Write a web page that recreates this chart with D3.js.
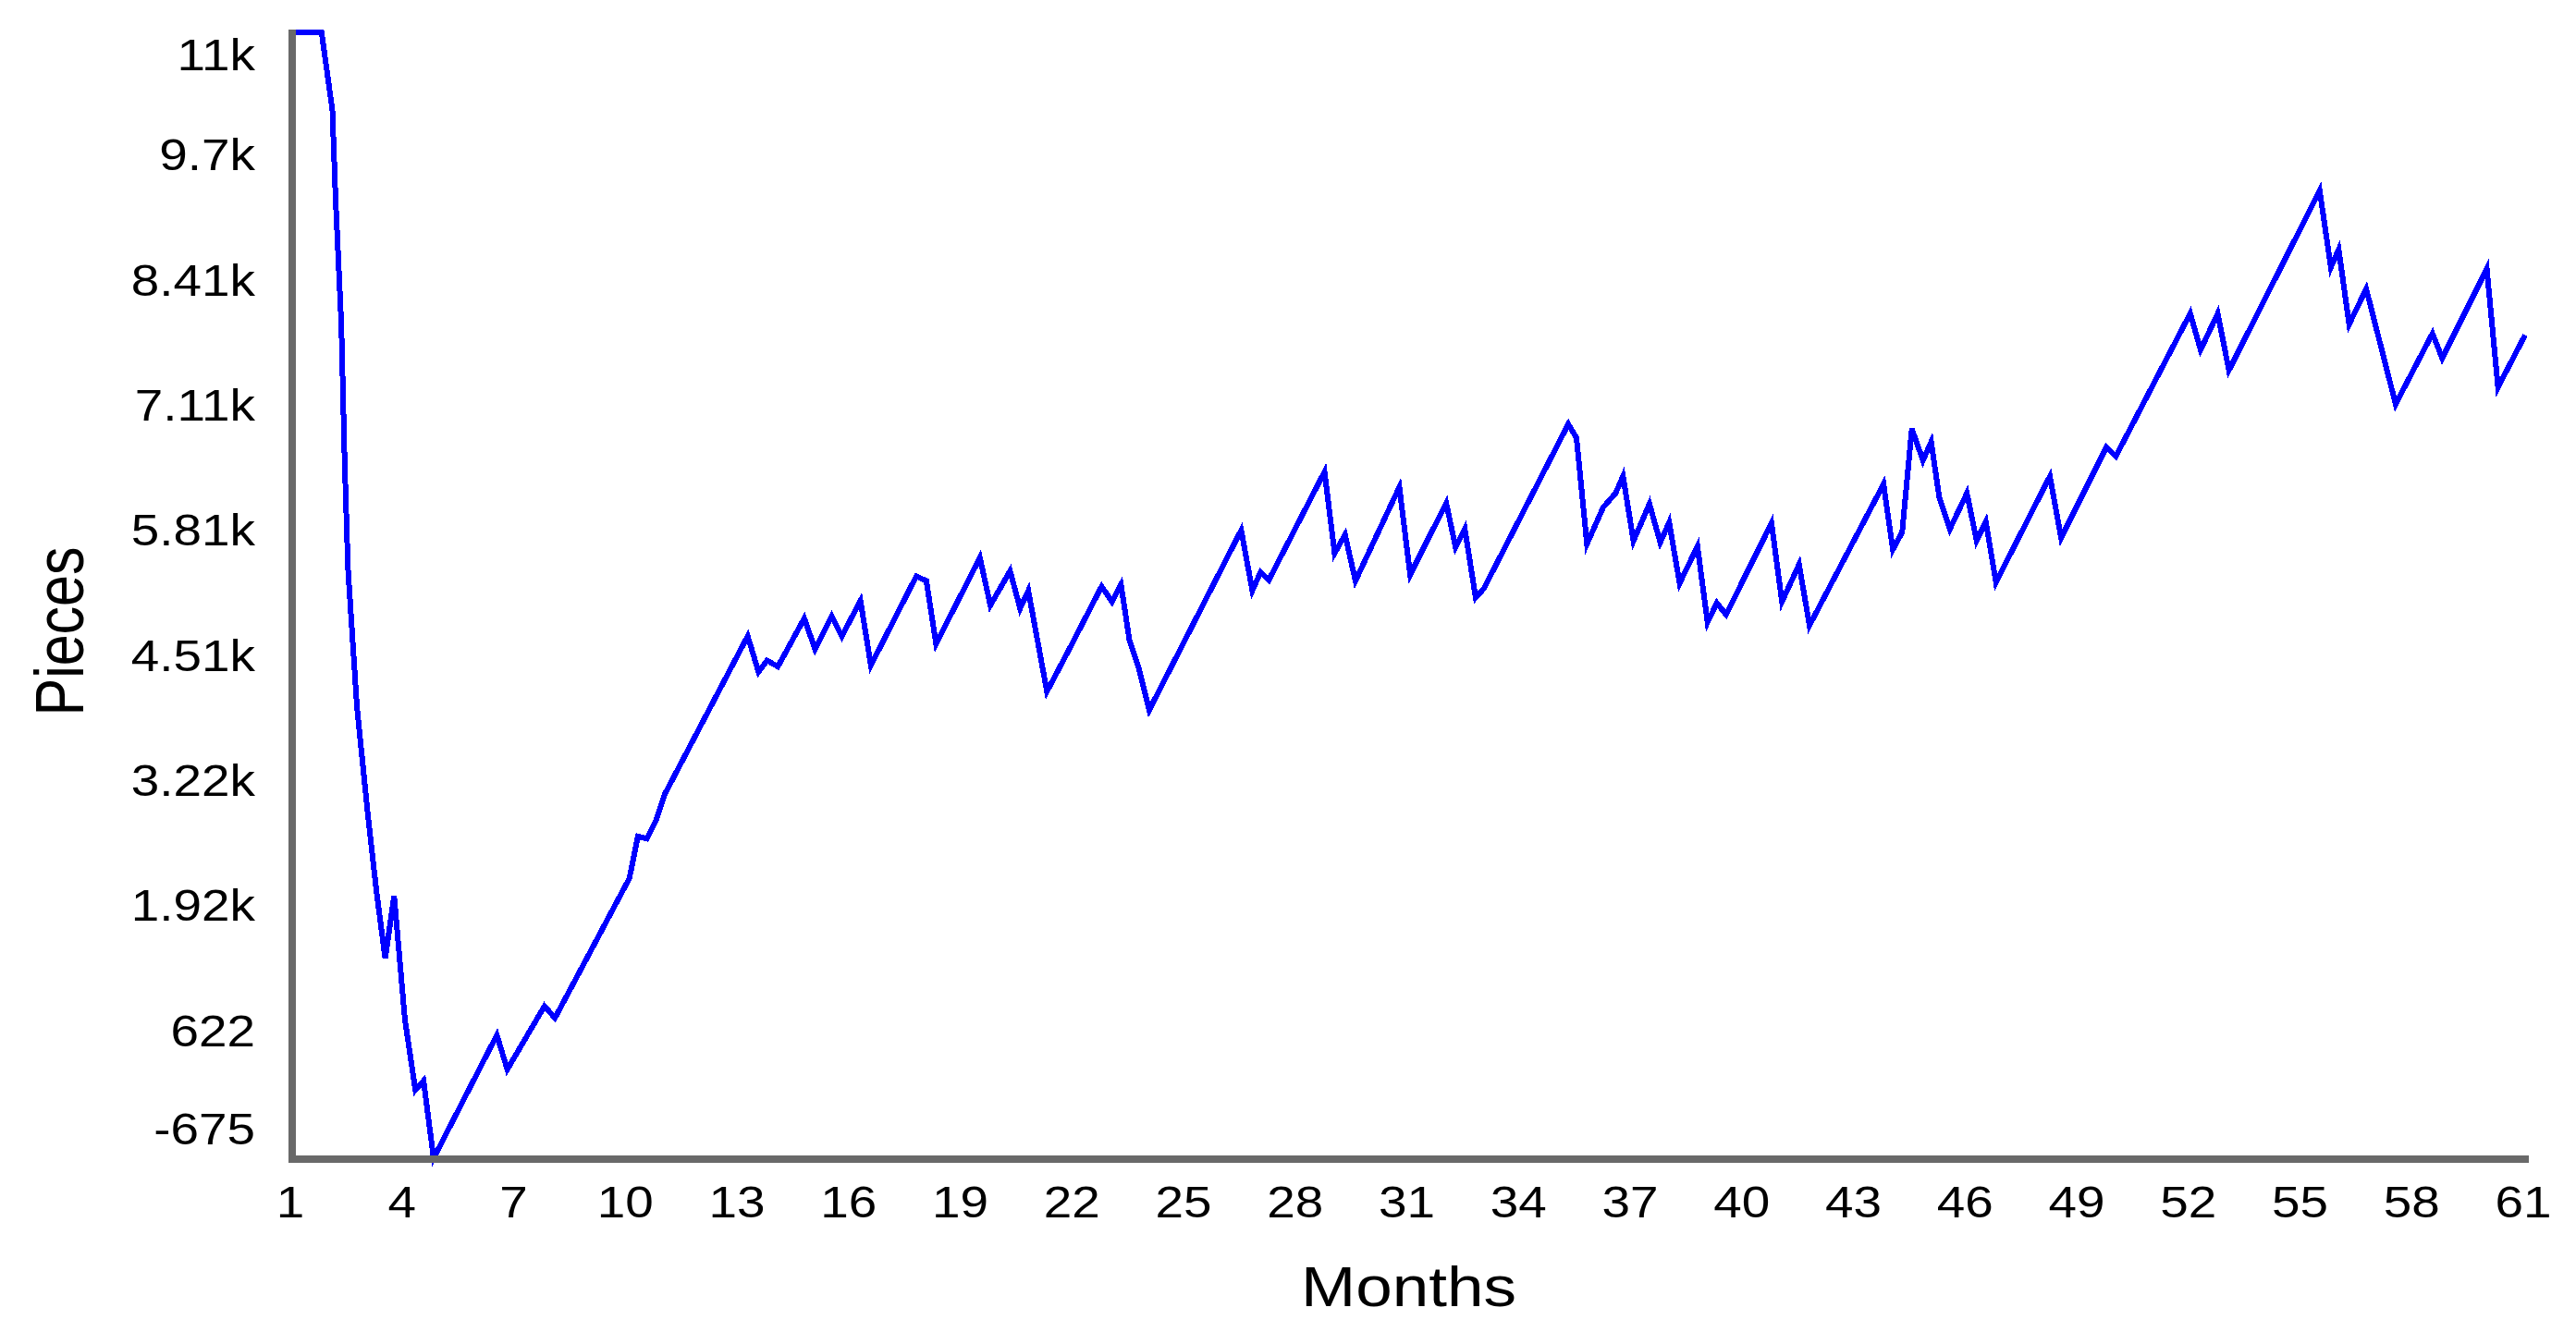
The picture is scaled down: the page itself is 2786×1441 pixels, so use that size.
<!DOCTYPE html>
<html>
<head>
<meta charset="utf-8">
<script src="https://cdn.jsdelivr.net/npm/d3@7"></script>
<style>
  html, body { margin: 0; padding: 0; background: #ffffff; }
  svg { display: block; }
  text { font-family: "Liberation Sans", Arial, Helvetica, sans-serif; fill: #000; }
</style>
</head>
<body>
<svg id="chart" width="2786" height="1441"></svg>
<script>
// ---- data (month, pieces) ----
const months = [
  1.00, 1.79, 2.08, 2.17, 2.32, 2.41, 2.50, 2.74, 3.03, 3.26, 3.50, 3.74, 4.03, 4.31, 4.53, 4.80,
  6.50, 6.78, 7.78, 8.06, 10.06, 10.29, 10.53, 10.77, 11.01, 13.24, 13.53, 13.76, 14.05, 14.76,
  15.05, 15.50, 15.77, 16.27, 16.55, 17.77, 18.04, 18.30, 19.48, 19.76, 20.29, 20.56, 20.78,
  21.28, 21.87, 22.75, 23.03, 23.27, 23.50, 23.75, 24.03, 26.50, 26.80, 27.02, 27.24, 28.74,
  29.01, 29.29, 29.57, 30.75, 31.04, 32.01, 32.26, 32.51, 32.80, 33.02, 35.29, 35.51, 35.79,
  36.23, 36.56, 36.76, 37.04, 37.47, 37.76, 38.00, 38.28, 38.76, 39.03, 39.28, 39.53, 40.75,
  41.03, 41.49, 41.77, 43.76, 44.01, 44.26, 44.52, 44.82, 45.04, 45.26, 45.54, 46.00, 46.26,
  46.51, 46.78, 48.23, 48.53, 49.75, 50.00, 52.00, 52.28, 52.74, 53.04, 55.48, 55.78, 55.99,
  56.27, 56.73, 57.52, 58.51, 58.77, 59.97, 60.27, 61.00
];
const pieces = [
  11001, 11001, 10195, 9243, 7977, 6548, 5438, 4010, 2900, 2109, 1395, 2045, 761, 32, 128, -675,
  602, 246, 903, 778, 2227, 2663, 2639, 2822, 3099, 4740, 4368, 4487, 4423, 4923,
  4605, 4946, 4739, 5106, 4437, 5360, 5313, 4660, 5552, 5058, 5415, 5026, 5211,
  4165, 4596, 5255, 5096, 5274, 4691, 4404, 3974, 5838, 5211, 5402, 5319, 6444,
  5599, 5791, 5313, 6285, 5377, 6120, 5663, 5850, 5138, 5233, 6938, 6794, 5695,
  6077, 6221, 6397, 5727, 6110, 5711, 5919, 5288, 5670, 4882, 5083, 4963, 5912,
  5096, 5482, 4851, 6316, 5638, 5816, 6890, 6562, 6753, 6173, 5848, 6221, 5733,
  5924, 5297, 6397, 5759, 6699, 6603, 8085, 7709, 8085, 7496, 9360, 8563, 8749,
  7974, 8340, 7145, 7878, 7623, 8548, 7320, 7862
];

const xTickValues = [1, 4, 7, 10, 13, 16, 19, 22, 25, 28, 31, 34, 37, 40, 43, 46, 49, 52, 55, 58, 61];
const xTickLabels = ["1", "4", "7", "10", "13", "16", "19", "22", "25", "28", "31", "34", "37", "40", "43", "46", "49", "52", "55", "58", "61"];

const yTickValues = [-675, 622.3, 1919.6, 3216.9, 4514.2, 5811.5, 7108.8, 8406.1, 9703.4, 11000.7];
const yTickLabels = ["-675", "622", "1.92k", "3.22k", "4.51k", "5.81k", "7.11k", "8.41k", "9.7k", "11k"];

const xTitle = "Months";
const yTitle = "Pieces";

// ---- drawing ----
const svg = d3.select("#chart");
const data = months.map((m, i) => [m, pieces[i]]);

const x = d3.scaleLinear().domain([1, 61]).range([316, 2731]);
const y = d3.scaleLinear().domain([yTickValues[0], yTickValues[yTickValues.length - 1]]).range([1253, 35]);

const axisColor = "#696969";
const axisWidth = 7.5;
const stretch = 1.12; // text in the reference is slightly wide

// data line
svg.append("path")
  .datum(data)
  .attr("fill", "none")
  .attr("stroke", "#0000ff")
  .attr("stroke-width", 6)
  .attr("stroke-linejoin", "miter")
  .attr("shape-rendering", "crispEdges")
  .attr("d", d3.line().x(d => x(d[0])).y(d => y(d[1])));

// axis lines
const [x0, x1] = x.range();
const [yb, yt] = y.range();
svg.append("line")
  .attr("x1", x0).attr("x2", x0)
  .attr("y1", yt - 3).attr("y2", yb + 4.5)
  .attr("stroke", axisColor).attr("stroke-width", axisWidth)
  .attr("shape-rendering", "crispEdges");
svg.append("line")
  .attr("x1", x0 - 4).attr("x2", x1 + 4)
  .attr("y1", yb + 0.8).attr("y2", yb + 0.8)
  .attr("stroke", axisColor).attr("stroke-width", axisWidth)
  .attr("shape-rendering", "crispEdges");

// x tick labels
svg.append("g").selectAll("text")
  .data(xTickValues)
  .join("text")
  .attr("transform", d => `translate(${x(d) - 2},1317) scale(${stretch},1)`)
  .attr("text-anchor", "middle")
  .attr("font-size", 49)
  .text((d, i) => xTickLabels[i]);

// y tick labels (end labels kept inside the plot height)
svg.append("g").selectAll("text")
  .data(yTickValues)
  .join("text")
  .attr("transform", d => `translate(276,${Math.max(76, Math.min(1238, y(d) + 14))}) scale(${stretch},1)`)
  .attr("text-anchor", "end")
  .attr("font-size", 49)
  .text((d, i) => yTickLabels[i]);

// axis titles
svg.append("text")
  .attr("x", (x0 + x1) / 2)
  .attr("y", 1413)
  .attr("text-anchor", "middle")
  .attr("font-size", 62)
  .attr("textLength", 233)
  .attr("lengthAdjust", "spacingAndGlyphs")
  .text(xTitle);

svg.append("text")
  .attr("transform", "translate(90,683) rotate(-90)")
  .attr("text-anchor", "middle")
  .attr("font-size", 74)
  .attr("textLength", 183)
  .attr("lengthAdjust", "spacingAndGlyphs")
  .text(yTitle);
</script>
</body>
</html>
